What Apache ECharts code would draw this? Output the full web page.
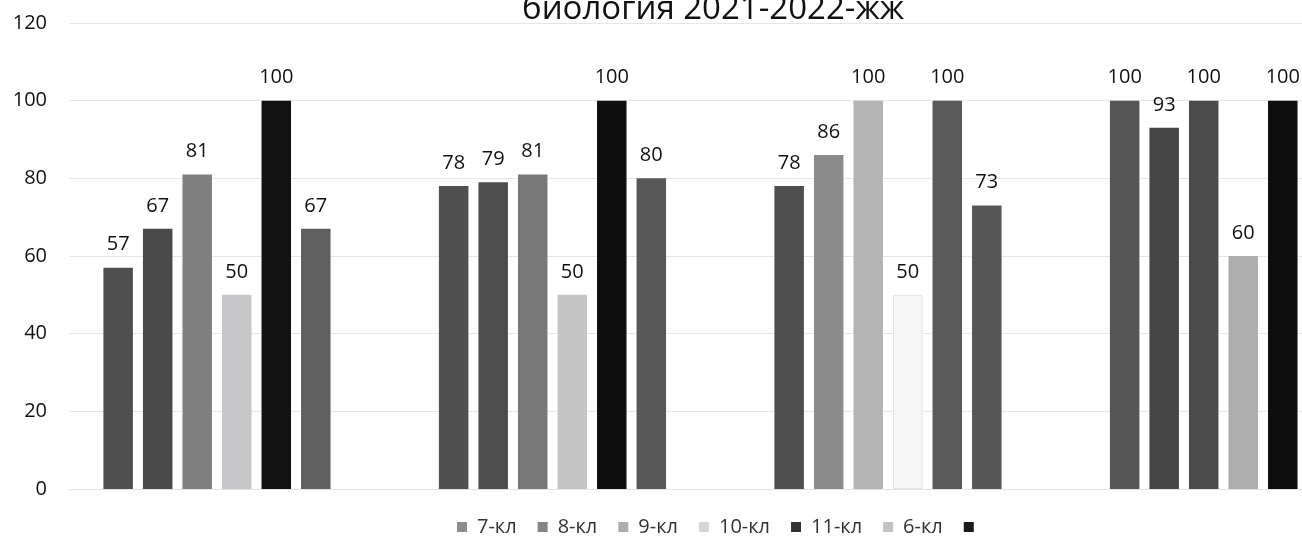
<!DOCTYPE html>
<html>
<head>
<meta charset="utf-8">
<script src="https://cdn.jsdelivr.net/npm/echarts@6/dist/echarts.min.js"></script>
<style>
html,body{margin:0;padding:0;background:#fff;overflow:hidden;width:1302px;height:537px;}
#chart{width:1420px;height:537px;}
</style>
</head>
<body>
<div id="chart"></div>
<script>
// ---- data ----
const titleText = 'биология 2021-2022-жж';
const categories = ['1', '2', '3', '4'];
const seriesNames = ['7-кл', '8-кл', '9-кл', '10-кл', '11-кл', '6-кл', ' '];
const v7  = [57, 78, 78, 100];
const v8  = [67, 79, 86, 93];
const v9  = [81, 81, 100, 100];
const v10 = [50, 50, 50, 60];
const v11 = [100, 100, 100, 100];
const v6  = [67, 80, 73, null];
const vX  = [null, null, null, null];
const yTicks = [0, 20, 40, 60, 80, 100, 120];

// ---- styles ----
const barColors = [
  ['#4f4f4f', '#505050', '#4e4e4e', '#565656'],
  ['#4a4a4a', '#4d4d4d', '#8c8c8c', '#464646'],
  ['#7f7f7f', '#787878', '#b4b4b4', '#4c4c4c'],
  ['#c6c6c9', '#c5c5c5', '#f7f7f7', '#adadad'],
  ['#121212', '#0f0f0f', '#5a5a5a', '#0e0e0e'],
  ['#5f5f5f', '#585858', '#565656', '#565656'],
  ['#111111', '#111111', '#111111', '#111111']
];
const legendColors = ['#8c8c8c', '#848484', '#adadad', '#d6d6d6', '#333333', '#c2c2c2', '#1a1a1a'];
const values = [v7, v8, v9, v10, v11, v6, vX];
const FONT = '"Open Sans", sans-serif';

const series = seriesNames.map((name, si) => ({
  name: name,
  type: 'bar',
  barWidth: 29.5,
  barGap: '34%',
  itemStyle: { color: legendColors[si] },
  data: values[si].map((v, ci) => ({
    value: v,
    itemStyle: (si === 3 && ci === 2)
      ? { color: barColors[si][ci], borderColor: '#e2e2e2', borderWidth: 1 }
      : { color: barColors[si][ci] }
  })),
  label: {
    show: true,
    position: 'top',
    distance: 13,
    fontFamily: FONT,
    fontSize: 20,
    color: '#111',
    formatter: p => (p.value == null ? '' : String(p.value))
  }
}));

const chart = echarts.init(document.getElementById('chart'));
chart.setOption({
  animation: false,
  backgroundColor: '#ffffff',
  title: {
    text: titleText,
    left: 517,
    top: -12,
    textStyle: { fontFamily: FONT, fontSize: 33, fontWeight: 'normal', color: '#111' }
  },
  legend: {
    data: seriesNames.map((n, i) => ({ name: n, itemStyle: { color: legendColors[i] } })),
    left: 452,
    top: 512,
    icon: 'rect',
    itemWidth: 10,
    itemHeight: 10,
    itemGap: 21,
    textStyle: { fontFamily: FONT, fontSize: 20, color: '#333', padding: [0, 0, 0, 5] }
  },
  grid: { left: 69, top: 23, right: 9, bottom: 48, containLabel: false },
  xAxis: {
    type: 'category',
    data: categories,
    axisLine: { show: true, lineStyle: { color: '#e3e3e3' } },
    axisTick: { show: false },
    axisLabel: { show: false },
    splitLine: { show: false }
  },
  yAxis: {
    type: 'value',
    min: yTicks[0],
    max: yTicks[yTicks.length - 1],
    interval: yTicks[1] - yTicks[0],
    axisLine: { show: false },
    axisTick: { show: false },
    axisLabel: { fontFamily: FONT, fontSize: 20, color: '#111', margin: 22 },
    splitLine: { lineStyle: { color: '#e6e6e6', width: 1 } }
  },
  series: series
});
</script>
</body>
</html>
